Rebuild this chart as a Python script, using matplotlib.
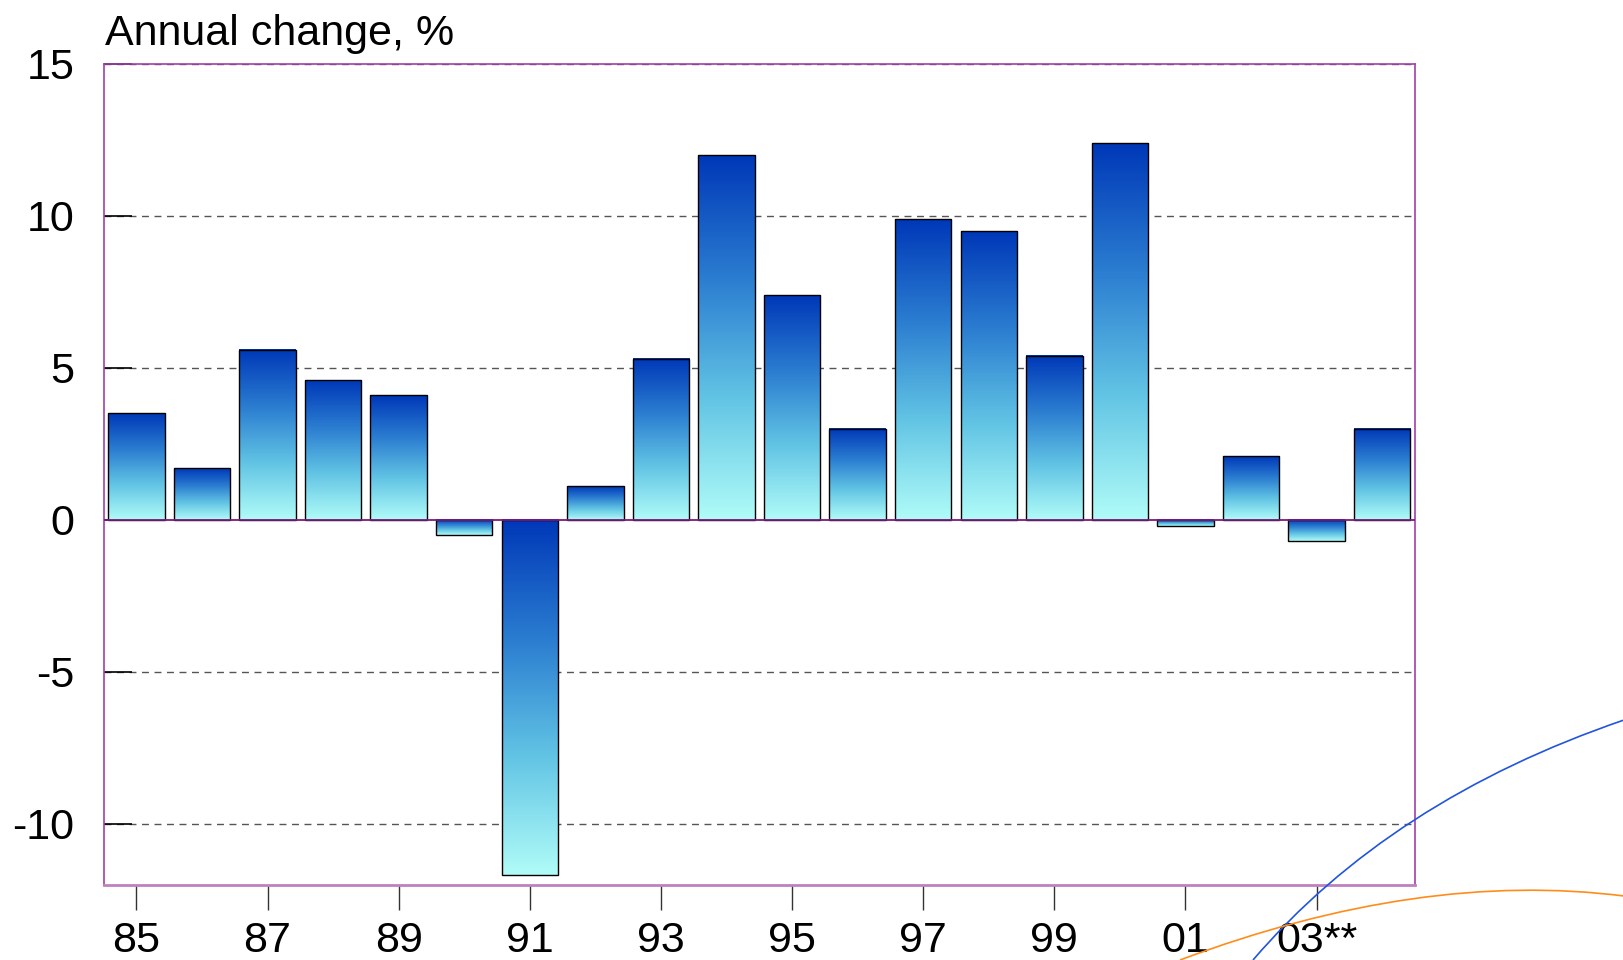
import numpy as np
import matplotlib
matplotlib.use("Agg")
import matplotlib.pyplot as plt
from matplotlib.colors import LinearSegmentedColormap
from matplotlib.path import Path
from matplotlib.patches import PathPatch

plt.rcParams["font.family"] = ["Liberation Sans", "DejaVu Sans"]

years = ["85", "86", "87", "88", "89", "90", "91", "92", "93", "94",
         "95", "96", "97", "98", "99", "00", "01", "02", "03**", "04"]
values = [3.5, 1.7, 5.6, 4.6, 4.1, -0.5, -11.7, 1.1, 5.3, 12.0,
          7.4, 3.0, 9.9, 9.5, 5.4, 12.4, -0.2, 2.1, -0.7, 3.0]
yticks = [-10, -5, 0, 5, 10, 15]

fig = plt.figure(figsize=(16.24, 9.6), dpi=100)
ax = fig.add_axes([0.0638, 0.0786, 0.8075, 0.855])

x = np.arange(len(years))
bars = ax.bar(x, values, width=0.86, facecolor="none", edgecolor="black",
              linewidth=1.0, zorder=3)

# gradient fill: dark blue at top, pale cyan at bottom
cmap = LinearSegmentedColormap.from_list(
    "bluegrad", ["#b0fcf8", "#62c4e4", "#2a7cd0", "#0038b8"])
grad = np.linspace(0, 1, 256).reshape(-1, 1)
for b in bars:
    x0, y0 = b.get_x(), b.get_y()
    w, h = b.get_width(), b.get_height()
    lo, hi = min(y0, y0 + h), max(y0, y0 + h)
    ax.imshow(grad, extent=[x0, x0 + w, lo, hi], origin="lower",
              aspect="auto", cmap=cmap, zorder=2, interpolation="bilinear")

ax.set_xlim(-0.5, len(years) - 0.5)
ax.set_ylim(-12, 15)

ax.set_yticks(yticks)
ax.set_yticklabels([str(t) for t in yticks], fontsize=31)
ax.tick_params(axis="y", direction="in", length=20, width=1.2, pad=21,
               color="black")
for t in yticks:
    if t == 0:
        continue
    ax.axhline(t, color="#555555", linestyle=(0, (5, 4)), linewidth=1.0,
               zorder=1)
ax.axhline(0, color="#7a1a7a", linewidth=1.3, zorder=4)

ax.set_xticks(x[::2])
ax.set_xticklabels(years[::2], fontsize=31)
ax.tick_params(axis="x", direction="out", length=18, width=1.0, pad=8,
               color="#333333")

for side in ["left", "right", "top"]:
    ax.spines[side].set_color("#a040a8")
    ax.spines[side].set_linewidth(1.2)
ax.spines["bottom"].set_color("#c080c0")
ax.spines["bottom"].set_linewidth(2.0)

fig.text(0.0645, 0.953, "Annual change, %", fontsize=31, ha="left",
         va="baseline")

# decorative arcs in the lower right corner (figure pixels)
W, H = 1624, 960
def arc(p0, c, p2, color):
    verts = [(p0[0] / W, 1 - p0[1] / H), (c[0] / W, 1 - c[1] / H),
             (p2[0] / W, 1 - p2[1] / H)]
    path = Path(verts, [Path.MOVETO, Path.CURVE3, Path.CURVE3])
    fig.patches.append(PathPatch(path, transform=fig.transFigure,
                                 facecolor="none", edgecolor=color,
                                 linewidth=1.2, zorder=10))

arc((1253, 960), (1390, 800), (1624, 720), "#2255dd")
arc((1180, 960), (1420, 870), (1624, 896), "#ff8c1a")

fig.savefig("out.png", dpi=100)
